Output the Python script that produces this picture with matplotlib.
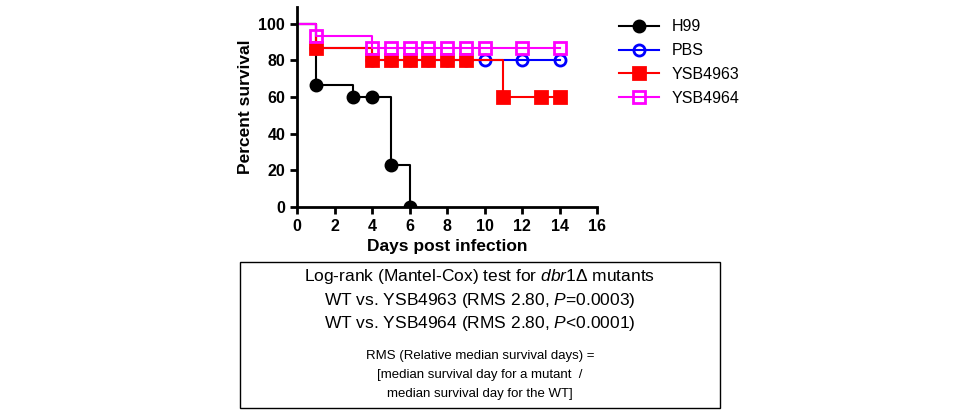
import matplotlib
matplotlib.use("Agg")
import matplotlib.pyplot as plt
from matplotlib.patches import Rectangle

# step data (day, percent survival)
h99_x = [0, 1, 3, 5, 6]
h99_y = [100, 66.7, 60, 22.7, 0]
h99_mx = [1, 3, 4, 5, 6]
h99_my = [66.7, 60, 60, 22.7, 0]

pbs_x = [0, 1, 4, 14]
pbs_y = [100, 86.7, 80, 80]
pbs_mx = [1, 4, 5, 6, 7, 8, 9, 10, 12, 14]
pbs_my = [86.7, 80, 80, 80, 80, 80, 80, 80, 80, 80]

y63_x = [0, 1, 4, 11, 14]
y63_y = [100, 86.7, 80, 60, 60]
y63_mx = [1, 4, 5, 6, 7, 8, 9, 11, 13, 14]
y63_my = [86.7, 80, 80, 80, 80, 80, 80, 60, 60, 60]

y64_x = [0, 1, 4, 14]
y64_y = [100, 93.3, 86.7, 86.7]
y64_mx = [1, 4, 5, 6, 7, 8, 9, 10, 12, 14]
y64_my = [93.3, 86.7, 86.7, 86.7, 86.7, 86.7, 86.7, 86.7, 86.7, 86.7]

labels = ["H99", "PBS", "YSB4963", "YSB4964"]

plt.rcParams['font.family'] = ['Liberation Sans', 'DejaVu Sans']
plt.rcParams['mathtext.fontset'] = 'custom'
plt.rcParams['mathtext.it'] = 'Liberation Sans:italic'
plt.rcParams['mathtext.rm'] = 'Liberation Sans'
fig = plt.figure(figsize=(9.6, 4.15), dpi=100)
ax = fig.add_axes([297/960, 1-207/415, 300/960, 200/415])

series = [
    (h99_x, h99_y, h99_mx, h99_my, 'black', 'o', 'black'),
    (pbs_x, pbs_y, pbs_mx, pbs_my, 'blue', 'o', 'none'),
    (y63_x, y63_y, y63_mx, y63_my, 'red', 's', 'red'),
    (y64_x, y64_y, y64_mx, y64_my, '#ff00ff', 's', 'none'),
]
handles = []
for (x, y, mx, my, c, m, fc), lab in zip(series, labels):
    ax.step(x, y, where='post', color=c, lw=1.5)
    ax.plot(mx, my, ls='none', marker=m, ms=8, mfc=fc, mec=c, mew=2)
    h, = ax.plot([], [], color=c, lw=1.5, marker=m, ms=8, mfc=fc, mec=c, mew=2, label=lab)
    handles.append(h)

ax.set_xlim(0, 16)
ax.set_ylim(0, 109)
ax.set_xticks(range(0, 17, 2))
ax.set_yticks(range(0, 101, 20))
for s in ['top', 'right']:
    ax.spines[s].set_visible(False)
for s in ['left', 'bottom']:
    ax.spines[s].set_linewidth(2)
ax.tick_params(width=2, length=5, labelsize=11.5)
for t in ax.get_xticklabels() + ax.get_yticklabels():
    t.set_fontweight('bold')
ax.set_xlabel("Days post infection", fontsize=12.5, fontweight='bold')
ax.set_ylabel("Percent survival", fontsize=12.5, fontweight='bold')

fig.legend(handles=handles, loc='upper left', bbox_to_anchor=(605/960, 1-5/415),
           frameon=False, fontsize=11.5, handlelength=2.5, labelspacing=0.55)

fig.patches.append(Rectangle((240/960, 1-408/415), 480/960, 146/415, transform=fig.transFigure,
                             fill=False, ec='black', lw=1))
fig.text(0.5, 1-277/415, "Log-rank (Mantel-Cox) test for $\\it{dbr1}$Δ mutants", ha='center', va='center', fontsize=12.5)
fig.text(0.5, 1-300/415, "WT vs. YSB4963 (RMS 2.80, $\\it{P}$=0.0003)", ha='center', va='center', fontsize=12.5)
fig.text(0.5, 1-323/415, "WT vs. YSB4964 (RMS 2.80, $\\it{P}$<0.0001)", ha='center', va='center', fontsize=12.5)
fig.text(0.5, 1-356/415, "RMS (Relative median survival days) =", ha='center', va='center', fontsize=9.5)
fig.text(0.5, 1-375/415, "[median survival day for a mutant  /", ha='center', va='center', fontsize=9.5)
fig.text(0.5, 1-394/415, "median survival day for the WT]", ha='center', va='center', fontsize=9.5)

fig.savefig("out.png", dpi=100)
